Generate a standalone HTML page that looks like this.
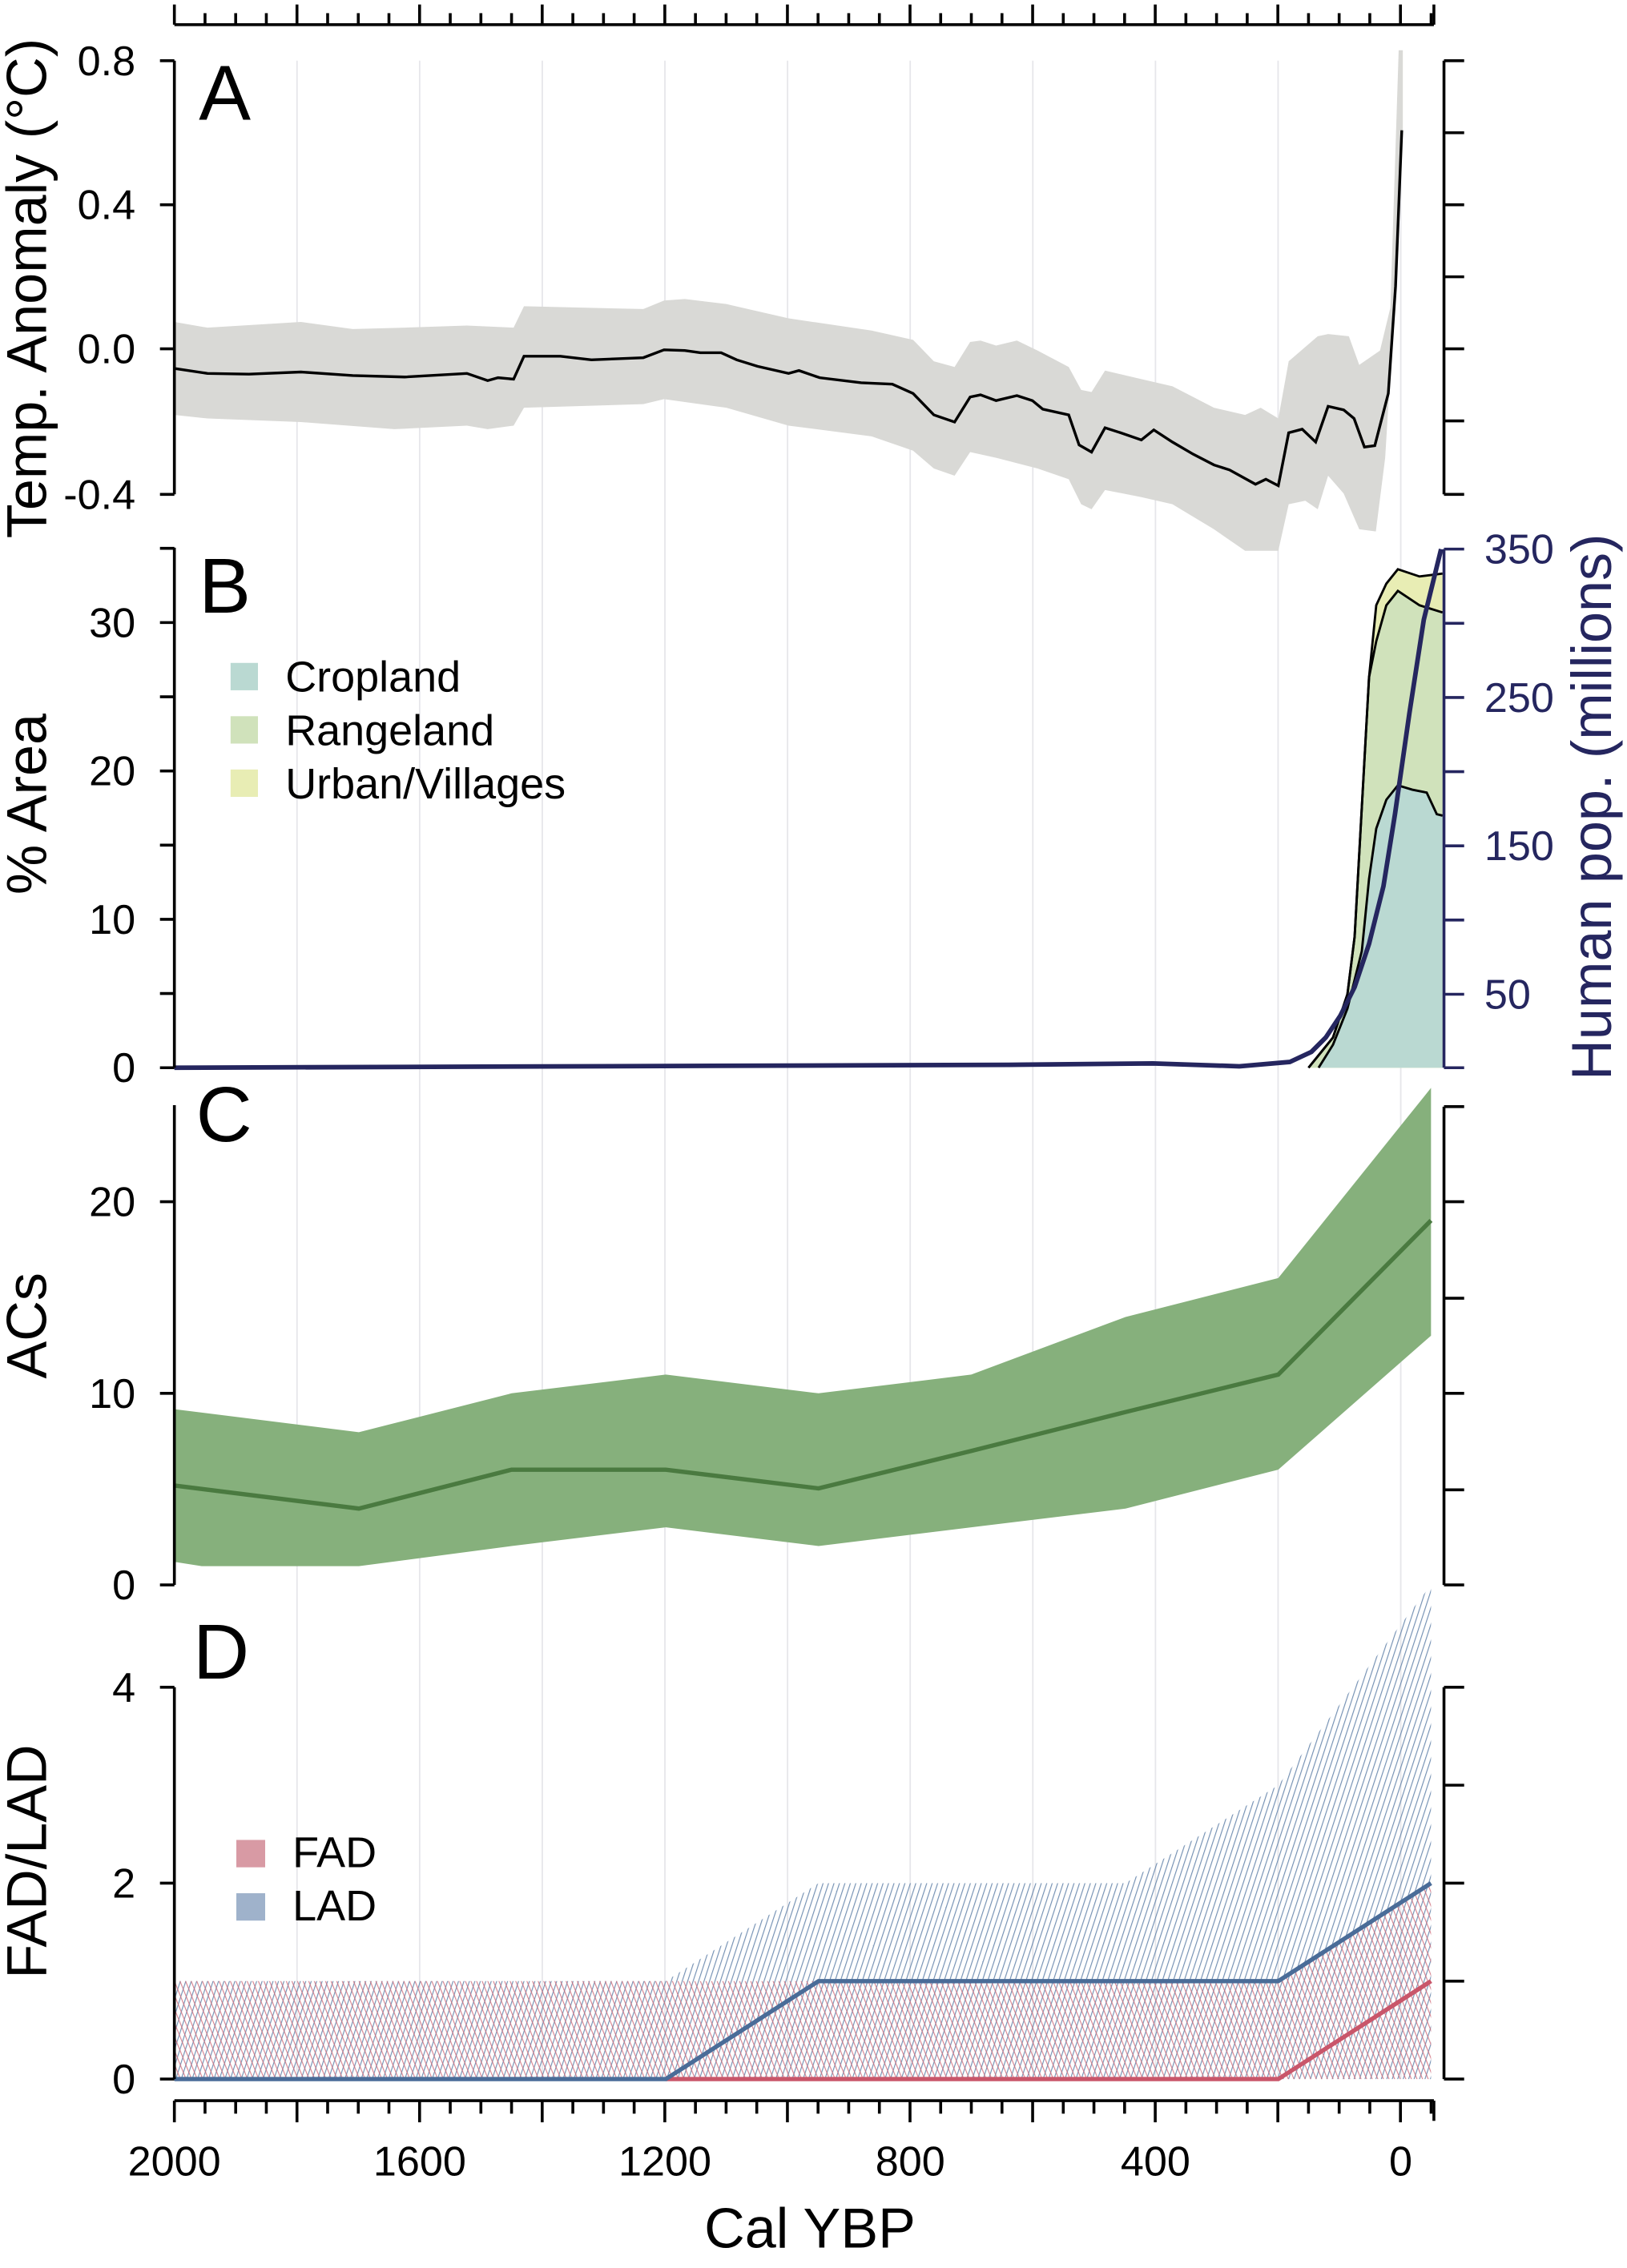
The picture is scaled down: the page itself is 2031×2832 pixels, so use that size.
<!DOCTYPE html>
<html><head><meta charset="utf-8"><style>
html,body{margin:0;padding:0;background:#fff}
svg{display:block}
text{font-family:"Liberation Sans",sans-serif}
</style></head><body>
<svg id="s" width="2031" height="2832" viewBox="0 0 1129 1574" xmlns="http://www.w3.org/2000/svg">
<defs>
<pattern id="hb" patternUnits="userSpaceOnUse" width="3.6" height="5" patternTransform="rotate(18)">
<line x1="0" y1="0" x2="0" y2="5" stroke="#5d7ea6" stroke-width="1.3" opacity="0.85"/></pattern>
<pattern id="hr" patternUnits="userSpaceOnUse" width="3.6" height="5" patternTransform="rotate(-22)">
<line x1="0" y1="0" x2="0" y2="5" stroke="#d0707e" stroke-width="1.3" opacity="0.85"/></pattern>
</defs>
<g id="grid" stroke="#e6e6ea" stroke-width="1"></g>

<!-- Panel A -->
<g transform="scale(0.72,0.4963)">
<polygon fill="#d9d9d6" points="168,450 200,458 290,450 340,460 390,458 450,455 495,458 505,428 620,432 640,420 660,418 700,425 760,445 840,462 880,475 900,505 920,513 935,478 945,476 960,483 980,476 1000,490 1030,513 1042,545 1052,548 1065,518 1100,530 1130,540 1170,570 1200,580 1215,570 1232,585 1242,505 1270,470 1280,467 1300,470 1310,510 1330,490 1340,430 1348,70 1352,70 1352,182 1345,400 1335,640 1326,743 1310,740 1295,690 1280,665 1270,712 1258,700 1242,705 1232,770 1200,770 1170,740 1130,705 1100,695 1065,685 1052,712 1042,705 1030,670 1000,655 960,640 935,632 920,665 900,655 880,630 840,610 760,595 700,570 640,558 620,565 505,570 495,595 470,600 450,595 380,600 290,590 200,585 168,580"/>
<polyline fill="none" stroke="#000" stroke-width="3.4" vector-effect="non-scaling-stroke" points="168,515 200,522 240,523 290,520 340,525 390,527 450,522 470,532 480,528 495,530 505,498 540,498 570,503 620,500 640,489 660,490 675,493 695,493 710,503 730,512 760,522 770,518 790,528 830,535 860,537 880,550 900,580 920,590 935,555 945,552 960,560 980,553 995,560 1005,572 1030,580 1040,622 1052,632 1065,598 1080,605 1100,615 1112,601 1130,618 1150,635 1170,650 1185,657 1210,677 1220,670 1232,679 1242,605 1255,600 1268,618 1280,568 1295,573 1305,585 1315,625 1325,623 1338,550 1345,400 1351,182"/>
</g>

<!-- Panel B -->
<polygon fill="#e8edb4" points="908,741 925,720 935,690 940,650 945,560 950,470 955,420 962,405 970,395 985,400 1001,398 1001,741"/>
<polygon fill="#d0e2bb" points="908,741 925,720 935,690 940,650 945,560 950,470 955,445 962,420 970,410 985,420 1001,425 1001,741"/>
<polygon fill="#bad9d2" points="915,741 925,725 935,700 945,660 950,610 955,575 962,555 970,545 980,548 990,550 997,565 1001,566 1001,741"/>
<g fill="none" stroke="#000" stroke-width="1.6">
<polyline points="908,741 925,720 935,690 940,650 945,560 950,470 955,420 962,405 970,395 985,400 1001,398"/>
<polyline points="908,741 925,720 935,690 940,650 945,560 950,470 955,445 962,420 970,410 985,420 1001,425"/>
<polyline points="915,741 925,725 935,700 945,660 950,610 955,575 962,555 970,545 980,548 990,550 997,565 1001,566"/>
</g>
<polyline fill="none" stroke="#25265f" stroke-width="3.2" points="121,741 700,739 800,738 860,740 895,737 910,730 920,720 930,705 940,685 950,655 960,615 968,565 978,495 988,430 1000,381"/>

<!-- Panel C -->
<polygon fill="#86b07c" points="121,978 249,994 355,967 462,954 568,967 674,954 781,914 887,887 993,755 993,927 887,1020 781,1047 674,1060 568,1073 462,1060 355,1073 249,1087 140,1087 121,1084"/>
<polyline fill="none" stroke="#4a7a40" stroke-width="3" points="121,1031 249,1047 355,1020 462,1020 568,1033 674,1007 781,980 887,954 993,847"/>

<!-- Panel D -->
<polygon fill="url(#hb)" points="121,1375 462,1375 568,1307 781,1307 887,1239 993,1100 993,1443 121,1443"/>
<polygon fill="url(#hr)" points="121,1375 887,1375 993,1307 993,1443 121,1443"/>
<polyline fill="none" stroke="#c9566a" stroke-width="3" points="462,1443 887,1443 993,1375"/>
<polyline fill="none" stroke="#4a6c98" stroke-width="3" points="121,1443 462,1443 568,1375 887,1375 993,1307"/>

<g id="axes" stroke="#000" stroke-width="2" fill="none"></g>
<g id="labs" font-size="29" fill="#000"></g>

<!-- legends -->
<rect x="160" y="460" width="19" height="19" fill="#bad9d2"/>
<rect x="160" y="497" width="19" height="19" fill="#d0e2bb"/>
<rect x="160" y="534" width="19" height="19" fill="#e8edb4"/>
<text x="198" y="480" font-size="30">Cropland</text>
<text x="198" y="517" font-size="30">Rangeland</text>
<text x="198" y="554" font-size="30">Urban/Villages</text>
<rect x="164" y="1277" width="20" height="19" fill="#d89aa4"/>
<rect x="164" y="1314" width="20" height="19" fill="#9fb2cb"/>
<text x="203" y="1296" font-size="30">FAD</text>
<text x="203" y="1333" font-size="30">LAD</text>

<text x="138" y="83" font-size="54">A</text>
<text x="138" y="425" font-size="54">B</text>
<text x="136" y="792" font-size="54">C</text>
<text x="134" y="1165" font-size="54">D</text>

<text transform="translate(32,200) rotate(-90)" text-anchor="middle" font-size="39">Temp. Anomaly (°C)</text>
<text transform="translate(32,558) rotate(-90)" text-anchor="middle" font-size="39">% Area</text>
<text transform="translate(32,920) rotate(-90)" text-anchor="middle" font-size="39">ACs</text>
<text transform="translate(32,1292) rotate(-90)" text-anchor="middle" font-size="39">FAD/LAD</text>
<text transform="translate(1118,560) rotate(-90)" text-anchor="middle" font-size="39" fill="#25265f">Human pop. (millions)</text>
<text x="562" y="1560" text-anchor="middle" font-size="39">Cal YBP</text>
</svg>
<script>
(function(){
var NS="http://www.w3.org/2000/svg";
function el(p,t,a,txt){var e=document.createElementNS(NS,t);for(var k in a)e.setAttribute(k,a[k]);if(txt!==undefined)e.textContent=txt;document.getElementById(p).appendChild(e);}
function X(y){return 121+0.4255*(2000-y);}
for(var y=1800;y>=0;y-=200){el("grid","line",{x1:X(y),x2:X(y),y1:42,y2:1443});}
el("axes","line",{x1:121,x2:995,y1:17,y2:17});
el("axes","line",{x1:121,x2:995,y1:1458,y2:1458});
for(var k=0;k<=41;k++){var x=121+21.27*k;var maj=(k%4==0);
 el("axes","line",{x1:x,x2:x,y1:17,y2:maj?3:9});
 el("axes","line",{x1:x,x2:x,y1:1458,y2:maj?1473:1467});}
el("axes","line",{x1:995,x2:995,y1:17,y2:3});el("axes","line",{x1:995,x2:995,y1:1458,y2:1472});
[2000,1600,1200,800,400,0].forEach(function(y){el("labs","text",{x:X(y),y:1510,"text-anchor":"middle"},String(y));});
function left(y0,y1,ticks){el("axes","line",{x1:121,x2:121,y1:y0,y2:y1});
 ticks.forEach(function(t){el("axes","line",{x1:121,x2:111,y1:t[0],y2:t[0]});if(t[1]!==null)el("labs","text",{x:94,y:t[0]+10,"text-anchor":"end"},t[1]);});}
left(42,343,[[42,"0.8"],[142,"0.4"],[242,"0.0"],[343,"-0.4"]]);
left(380,741,[[741,"0"],[689.5,null],[638,"10"],[586.5,null],[535,"20"],[483.5,null],[432,"30"],[380.5,null]]);
left(767,1100,[[1100,"0"],[967,"10"],[834,"20"]]);
left(1171,1443,[[1443,"0"],[1307,"2"],[1171,"4"]]);
function right(y0,y1,ticks,col){el("axes","line",{x1:1002,x2:1002,y1:y0,y2:y1,stroke:col||"#000"});
 ticks.forEach(function(t){el("axes","line",{x1:1002,x2:1016,y1:t,y2:t,stroke:col||"#000"});});}
right(42,343,[42,92,142,192,242,292,343]);
right(381,741,[381,432.5,484,535.5,587,638.5,690,741],"#25265f");
[[381,"350"],[484,"250"],[587,"150"],[690,"50"]].forEach(function(t){el("labs","text",{x:1030,y:t[0]+10,fill:"#25265f"},t[1]);});
right(768,1100,[768,834,901,967,1034,1100]);
right(1171,1443,[1171,1239,1307,1375,1443]);
})();
</script>
</body></html>
